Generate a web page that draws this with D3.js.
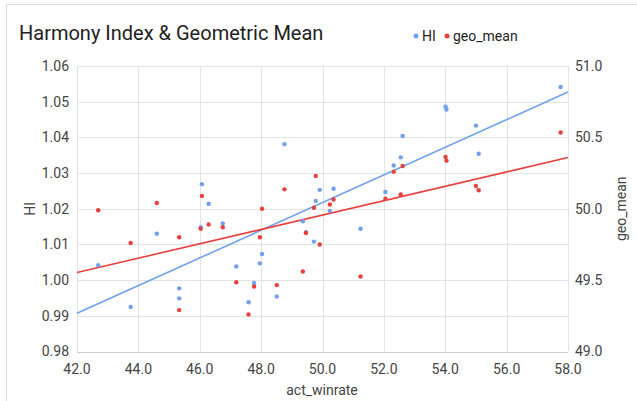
<!DOCTYPE html>
<html>
<head>
<meta charset="utf-8">
<script src="https://cdn.jsdelivr.net/npm/d3@7"></script>
<style>
  body { margin: 0; background: #fff; }
  svg { font-family: Roboto, sans-serif; }
</style>
</head>
<body>
<script>
// data
const actWinrate = [42.69, 43.75, 44.6, 45.33, 45.33, 46.07, 46.03, 46.29, 46.75, 47.19, 47.59,
  47.77, 47.96, 48.03, 48.51, 48.76, 49.36, 49.46, 49.72, 49.78, 49.91, 50.24, 50.36, 51.24,
  52.05, 52.32, 52.55, 52.61, 54.01, 54.04, 55.0, 55.09, 57.76];
const hiValues = [1.0042, 0.9925, 1.013, 0.9977, 0.9949, 1.0269, 1.0148, 1.0214, 1.0159, 1.0038, 0.9938,
  0.9992, 1.0047, 1.0073, 0.9954, 1.0381, 1.0165, 1.0134, 1.0108, 1.0222, 1.0253, 1.0194, 1.0256, 1.0144,
  1.0247, 1.0321, 1.0344, 1.0404, 1.0486, 1.0478, 1.0433, 1.0354, 1.0541];
const geoValues = [49.99, 49.76, 50.04, 49.80, 49.29, 50.09, 49.86, 49.89, 49.87, 49.485, 49.26,
  49.455, 49.80, 50.0, 49.465, 50.136, 49.56, 49.83, 50.007, 50.23, 49.75, 50.03, 50.065, 49.525,
  50.07, 50.26, 50.10, 50.30, 50.363, 50.337, 50.16, 50.13, 50.534];
const xTicks = [42, 44, 46, 48, 50, 52, 54, 56, 58];
const yTicksLeft = [0.98, 0.99, 1.00, 1.01, 1.02, 1.03, 1.04, 1.05, 1.06];
const yTicksRight = [49.0, 49.5, 50.0, 50.5, 51.0];

const width = 637, height = 401;
const blue = '#6fa1f0', red = '#e8403c';

const svg = d3.select('body').append('svg')
  .attr('width', width)
  .attr('height', height);

// chart frame
svg.append('rect')
  .attr('x', 6.5).attr('y', 4.5)
  .attr('width', width + 10).attr('height', height + 10)
  .attr('fill', 'none')
  .attr('stroke', '#dadce0');

const x = d3.scaleLinear().domain([42, 58]).range([77, 568]);
const yL = d3.scaleLinear().domain([0.98, 1.06]).range([351.5, 66]);
const yR = d3.scaleLinear().domain([49, 51]).range([351.5, 66]);

// grid
svg.append('g')
  .selectAll('line')
  .data(yTicksLeft)
  .join('line')
  .attr('x1', x(42)).attr('x2', x(58))
  .attr('y1', d => Math.round(yL(d)) + 0.5).attr('y2', d => Math.round(yL(d)) + 0.5)
  .attr('stroke', d => d === 0.98 ? '#cfcfcf' : '#e4e4e4');
svg.append('g')
  .selectAll('line')
  .data(xTicks)
  .join('line')
  .attr('y1', yL(1.06)).attr('y2', yL(0.98))
  .attr('x1', d => Math.round(x(d)) + 0.5).attr('x2', d => Math.round(x(d)) + 0.5)
  .attr('stroke', '#e4e4e4');

// axes labels
const tickStyle = sel => sel.attr('font-size', 14).attr('fill', '#444');

svg.append('g').selectAll('text')
  .data(yTicksLeft)
  .join('text')
  .attr('x', 69).attr('y', d => yL(d)).attr('dy', '0.35em')
  .attr('text-anchor', 'end')
  .text(d => d.toFixed(2))
  .call(tickStyle);

svg.append('g').selectAll('text')
  .data(yTicksRight)
  .join('text')
  .attr('x', 575).attr('y', d => yR(d)).attr('dy', '0.35em')
  .attr('text-anchor', 'start')
  .text(d => d.toFixed(1))
  .call(tickStyle);

svg.append('g').selectAll('text')
  .data(xTicks)
  .join('text')
  .attr('x', d => x(d)).attr('y', 374)
  .attr('text-anchor', 'middle')
  .text(d => d.toFixed(1))
  .call(tickStyle);

svg.append('text')
  .attr('x', 322).attr('y', 395)
  .attr('text-anchor', 'middle')
  .text('act_winrate')
  .call(tickStyle);

svg.append('text')
  .attr('transform', `translate(35,${yL(1.02)}) rotate(-90)`)
  .attr('text-anchor', 'middle')
  .text('HI')
  .call(tickStyle);

svg.append('text')
  .attr('transform', `translate(626,${yL(1.02)}) rotate(-90)`)
  .attr('text-anchor', 'middle')
  .text('geo_mean')
  .call(tickStyle);

// title + legend
svg.append('text')
  .attr('x', 19).attr('y', 40)
  .attr('font-size', 20)
  .attr('fill', '#222')
  .text('Harmony Index & Geometric Mean');

const legend = svg.append('g').attr('transform', 'translate(416,36)');
legend.append('circle').attr('cx', 0).attr('cy', 0).attr('r', 2.5).attr('fill', blue);
legend.append('text').attr('x', 6).attr('y', 0).attr('dy', '0.35em').text('HI').call(tickStyle).attr('fill', '#222');
legend.append('circle').attr('cx', 31).attr('cy', 0).attr('r', 2.5).attr('fill', red);
legend.append('text').attr('x', 37).attr('y', 0).attr('dy', '0.35em').text('geo_mean').call(tickStyle).attr('fill', '#222');

// least squares trend lines
function fit(xs, ys) {
  const mx = d3.mean(xs), my = d3.mean(ys);
  let sxy = 0, sxx = 0;
  xs.forEach((v, i) => { sxy += (v - mx) * (ys[i] - my); sxx += (v - mx) * (v - mx); });
  const b = sxy / sxx;
  return v => my + b * (v - mx);
}
const hiFit = fit(actWinrate, hiValues);
const geoFit = fit(actWinrate, geoValues);

const trendX = x.domain();
svg.append('path')
  .datum(trendX)
  .attr('d', d3.line().x(d => x(d)).y(d => yL(hiFit(d))))
  .attr('stroke', blue).attr('stroke-width', 1.6).attr('fill', 'none');
svg.append('path')
  .datum(trendX)
  .attr('d', d3.line().x(d => x(d)).y(d => yR(geoFit(d))))
  .attr('stroke', red).attr('stroke-width', 1.6).attr('fill', 'none');

// points
svg.append('g').selectAll('circle')
  .data(actWinrate)
  .join('circle')
  .attr('cx', d => x(d)).attr('cy', (d, i) => yL(hiValues[i]))
  .attr('r', 2.2).attr('fill', blue);

svg.append('g').selectAll('circle')
  .data(actWinrate)
  .join('circle')
  .attr('cx', d => x(d)).attr('cy', (d, i) => yR(geoValues[i]))
  .attr('r', 2.2).attr('fill', red);
</script>
</body>
</html>
